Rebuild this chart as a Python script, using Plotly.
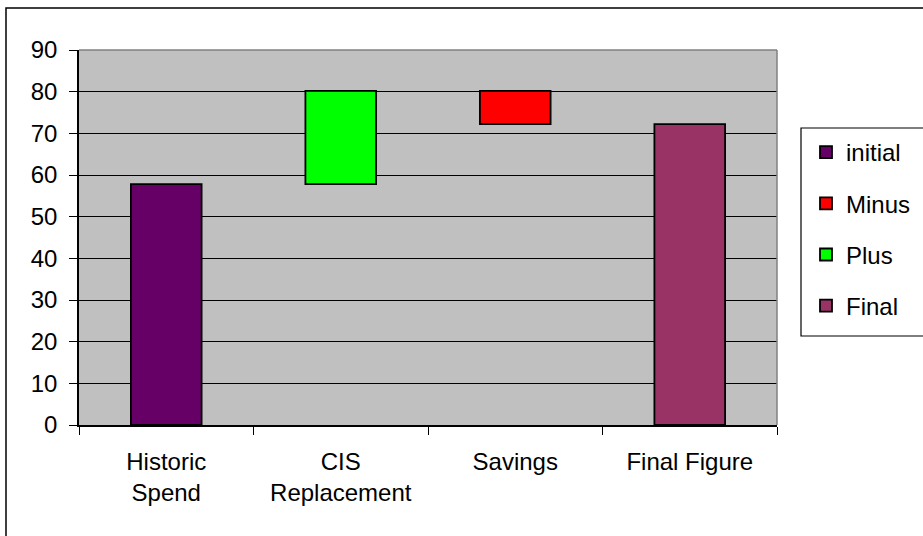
import plotly.graph_objects as go

# Waterfall steps
categories = ["Historic<br>Spend", "CIS<br>Replacement", "Savings", "Final Figure"]
initial_value = 57.8
plus_value = 22.4
minus_value = 8.0
final_value = 72.2
y_ticks = [0, 10, 20, 30, 40, 50, 60, 70, 80, 90]

# colours per series
series_colors = {
    "initial": "#660066",
    "Minus": "#FF0000",
    "Plus": "#00FF00",
    "Final": "#993366",
}

FONT = "Liberation Sans, Arial, sans-serif"
FS = 24
BAR_W = 0.405

after_plus = initial_value + plus_value

fig = go.Figure()

def add_step(name, cat, value, base):
    fig.add_trace(go.Bar(
        name=name,
        x=[cat],
        y=[value],
        base=[base],
        width=BAR_W,
        legendgroup=name,
        marker=dict(color=series_colors[name], line=dict(color="black", width=1.8)),
    ))

add_step("initial", categories[0], initial_value, 0)
add_step("Minus", categories[2], minus_value, after_plus - minus_value)
add_step("Plus", categories[1], plus_value, initial_value)
add_step("Final", categories[3], final_value, 0)

# plot area geometry in pixels
W, H = 923, 536
L, R, T, B = 79, 146, 50, 111
pw, ph = W - L - R, H - T - B

def px_x(p):
    return (p - L) / pw

def px_y(p):
    return (H - B - p) / ph

shapes = [
    # top and right edges of the plot area
    dict(type="line", xref="paper", yref="paper", x0=0, x1=1, y0=1, y1=1,
         line=dict(color="#808080", width=1.5), layer="above"),
    dict(type="line", xref="paper", yref="paper", x0=1, x1=1, y0=0, y1=1,
         line=dict(color="#808080", width=1.5), layer="above"),
    # outer chart frame
    dict(type="rect", xref="paper", yref="paper",
         x0=px_x(6), x1=px_x(930), y0=px_y(8), y1=px_y(545),
         line=dict(color="black", width=1.5), fillcolor="rgba(0,0,0,0)", layer="below"),
    # legend frame
    dict(type="rect", xref="paper", yref="paper",
         x0=px_x(801), x1=px_x(930), y0=px_y(128), y1=px_y(336),
         line=dict(color="black", width=1.2), fillcolor="white", layer="below"),
]

fig.update_layout(
    width=W, height=H,
    margin=dict(l=L, r=R, t=T, b=B, pad=0, autoexpand=False),
    paper_bgcolor="white",
    plot_bgcolor="#C0C0C0",
    barmode="overlay",
    font=dict(family=FONT, size=FS, color="black"),
    shapes=shapes,
    showlegend=True,
    legend=dict(
        x=px_x(806), y=px_y(130), xanchor="left", yanchor="top",
        bgcolor="rgba(0,0,0,0)", borderwidth=0,
        font=dict(family=FONT, size=FS, color="black"),
        tracegroupgap=17,
        traceorder="grouped",
    ),
    xaxis=dict(
        type="category",
        categoryorder="array", categoryarray=categories,
        tickson="boundaries",
        ticks="outside", ticklen=8, tickcolor="black", tickwidth=1,
        showline=True, linecolor="black", linewidth=1.5,
        showgrid=False, zeroline=False,
        ticklabelstandoff=14,
        tickfont=dict(family=FONT, size=FS),
    ),
    yaxis=dict(
        range=[0, 90],
        tickvals=y_ticks,
        ticks="outside", ticklen=8, tickcolor="black", tickwidth=1,
        showline=True, linecolor="black", linewidth=1.5,
        showgrid=True, gridcolor="black", gridwidth=1,
        zeroline=False,
        ticklabelstandoff=7,
        tickfont=dict(family=FONT, size=FS),
    ),
)

fig.write_html("out.html")
